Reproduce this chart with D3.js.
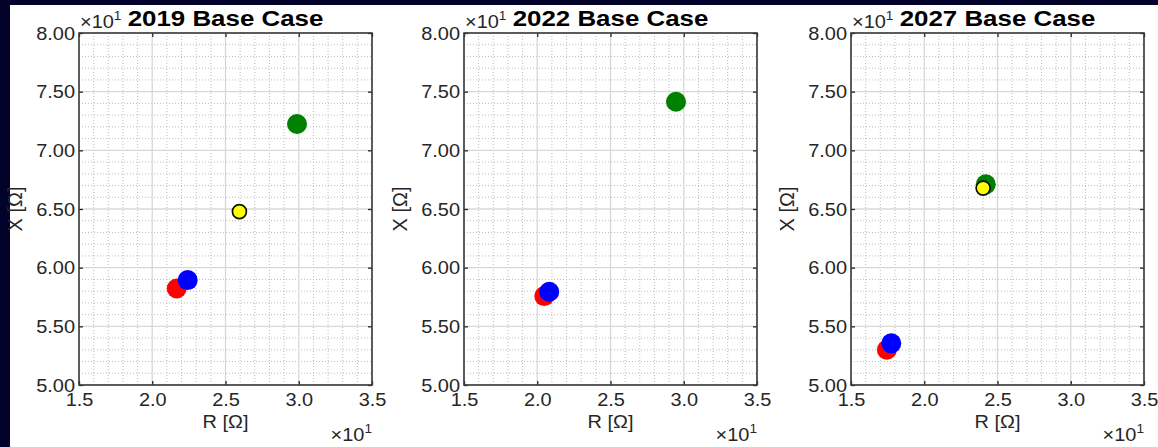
<!DOCTYPE html>
<html><head><meta charset="utf-8">
<script src="https://cdn.jsdelivr.net/npm/d3@7/dist/d3.min.js"></script>
<style>
html,body{margin:0;padding:0;background:#02022a;}
svg{display:block;}
text{font-family:"Liberation Sans",Arial,Helvetica,sans-serif;}
</style></head>
<body>
<svg id="chart" width="1158" height="447"></svg>
<script>
// ---- data (R and X in ohms; axes display in units of x10^1) ----
const panelTitles = ["2019 Base Case", "2022 Base Case", "2027 Base Case"];
const xTickValues = [15, 20, 25, 30, 35];
const yTickValues = [50, 55, 60, 65, 70, 75, 80];
const redR    = [21.67, 20.48, 17.45];
const redX    = [58.22, 57.58, 53.00];
const blueR   = [22.42, 20.82, 17.75];
const blueX   = [58.94, 57.95, 53.55];
const greenR  = [29.88, 29.47, 24.20];
const greenX  = [72.24, 74.14, 67.10];
const yellowR = [25.95, null, 24.02];
const yellowX = [64.78, null, 66.78];

const series = [
  {name:"red",    R:redR,    X:redX,    fill:"#ff0000", stroke:"none",   r:10},
  {name:"blue",   R:blueR,   X:blueX,   fill:"#0000ff", stroke:"none",   r:10},
  {name:"green",  R:greenR,  X:greenX,  fill:"#008000", stroke:"none",   r:10},
  {name:"yellow", R:yellowR, X:yellowX, fill:"#ffff00", stroke:"#111111", r:7}
];

const svg = d3.select("#chart");
svg.append("rect").attr("x",0).attr("y",0).attr("width",1158).attr("height",447).attr("fill","#02022a");
svg.append("rect").attr("x",10).attr("y",5).attr("width",1148).attr("height",442).attr("fill","#ffffff");

const lefts = [79, 464, 851];
const plotTop = 33, pw = 293, ph = 352;
const SX = 1.05; // horizontal text stretch
const FS = 19;
const textCol = "#262626";

function stretchText(sel){
  sel.each(function(){
    const t = d3.select(this);
    const x = +t.attr("x") || 0;
    const y = +t.attr("y") || 0;
    t.attr("transform", `translate(${x},${y}) scale(${SX},1)`).attr("x",0).attr("y",0);
  });
}

panelTitles.forEach((title, i) => {
  const L = lefts[i];
  const x = d3.scaleLinear().domain([15,35]).range([L, L+pw]);
  const y = d3.scaleLinear().domain([50,80]).range([plotTop+ph, plotTop]);
  const g = svg.append("g");

  // minor grid
  const minorX = d3.range(15, 35.001, 1).filter(v => v % 5 !== 0);
  const minorY = d3.range(50, 80.001, 1).filter(v => v % 5 !== 0);
  g.selectAll(".mgx").data(minorX).join("line")
    .attr("x1", d=>x(d)).attr("x2", d=>x(d)).attr("y1", plotTop).attr("y2", plotTop+ph)
    .attr("stroke","#bdbdbd").attr("stroke-width",1).attr("stroke-dasharray","1,2");
  g.selectAll(".mgy").data(minorY).join("line")
    .attr("x1", L).attr("x2", L+pw).attr("y1", d=>y(d)).attr("y2", d=>y(d))
    .attr("stroke","#bdbdbd").attr("stroke-width",1).attr("stroke-dasharray","1,2");
  // major grid
  g.selectAll(".Mgx").data(xTickValues).join("line")
    .attr("x1", d=>x(d)).attr("x2", d=>x(d)).attr("y1", plotTop).attr("y2", plotTop+ph)
    .attr("stroke","#d8d8d8").attr("stroke-width",1.3);
  g.selectAll(".Mgy").data(yTickValues).join("line")
    .attr("x1", L).attr("x2", L+pw).attr("y1", d=>y(d)).attr("y2", d=>y(d))
    .attr("stroke","#d8d8d8").attr("stroke-width",1.3);

  // axes
  const fmtX = d => (d/10).toFixed(1);
  const fmtY = d => (d/10).toFixed(2);
  const ax = (gen, tr) => {
    const a = g.append("g").attr("transform", tr).call(gen);
    a.select(".domain").remove();
    a.selectAll(".tick line").attr("stroke","#262626").attr("stroke-width",1.3);
    a.selectAll("text").attr("fill", textCol).attr("font-size", FS).attr("font-family",'"Liberation Sans",Arial,sans-serif');
    return a;
  };
  const bottom = ax(d3.axisBottom(x).tickValues(xTickValues).tickFormat(fmtX).tickSizeInner(-4).tickSizeOuter(0).tickPadding(7), `translate(0,${plotTop+ph})`);
  bottom.selectAll("text").attr("dy","0.71em");
  stretchText(bottom.selectAll("text"));
  const leftAx = ax(d3.axisLeft(y).tickValues(yTickValues).tickFormat(fmtY).tickSizeInner(-4).tickSizeOuter(0).tickPadding(4), `translate(${L},0)`);
  stretchText(leftAx.selectAll("text"));
  ax(d3.axisTop(x).tickValues(xTickValues).tickFormat("").tickSizeInner(-4).tickSizeOuter(0), `translate(0,${plotTop})`);
  ax(d3.axisRight(y).tickValues(yTickValues).tickFormat("").tickSizeInner(-4).tickSizeOuter(0), `translate(${L+pw},0)`);

  // box
  g.append("rect").attr("x", L).attr("y", plotTop).attr("width", pw).attr("height", ph)
    .attr("fill","none").attr("stroke","#3a3a3a").attr("stroke-width",1.6);

  // points
  series.forEach(s => {
    if (s.R[i] == null) return;
    g.append("circle").attr("cx", x(s.R[i])).attr("cy", y(s.X[i])).attr("r", s.r)
      .attr("fill", s.fill).attr("stroke", s.stroke).attr("stroke-width", s.stroke==="none"?0:1.7);
  });

  // axis labels
  g.append("text").attr("transform", `translate(${L+pw/2},428) scale(${SX},1)`)
    .attr("text-anchor","middle").attr("font-size",FS).attr("fill",textCol).text("R [Ω]");
  g.append("text").attr("transform", `translate(${L-57},${plotTop+ph/2}) rotate(-90)`)
    .attr("text-anchor","middle").attr("font-size",FS+1).attr("fill",textCol).text("X [Ω]");

  // exponent labels
  const ex1 = g.append("text").attr("transform", `translate(${L+1},28) scale(${SX},1)`)
    .attr("font-size",FS).attr("fill",textCol);
  ex1.append("tspan").text("×10");
  ex1.append("tspan").attr("font-size",13).attr("dy",-8).text("1");
  const ex2 = g.append("text").attr("transform", `translate(${L+pw},441) scale(${SX},1)`)
    .attr("text-anchor","end").attr("font-size",FS).attr("fill",textCol);
  ex2.append("tspan").text("×10");
  ex2.append("tspan").attr("font-size",13).attr("dy",-8).text("1");

  // title
  g.append("text").attr("transform", `translate(${L+pw/2},26) scale(1.15,1)`)
    .attr("text-anchor","middle").attr("font-size",22.5).attr("font-weight","bold").attr("fill","#000")
    .text(title);
});
</script>
</body></html>
